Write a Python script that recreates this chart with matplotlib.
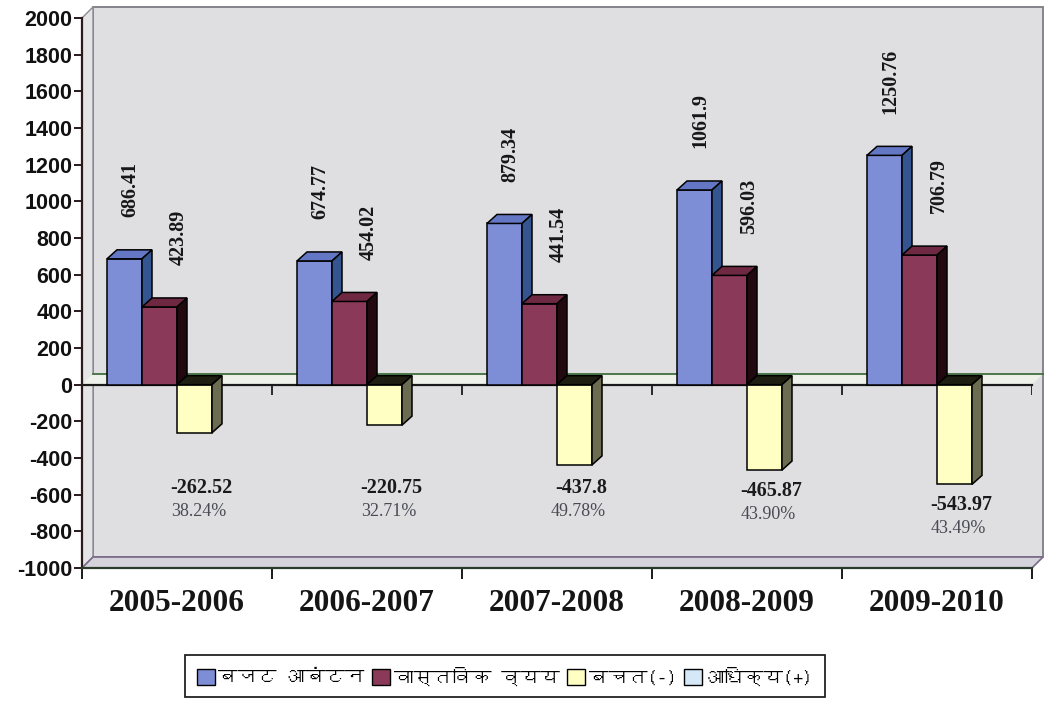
import matplotlib
matplotlib.use("Agg")
import matplotlib.pyplot as plt
from matplotlib.patches import Polygon, Patch
from matplotlib import font_manager
from matplotlib.ft2font import FT2Font

# ---------------- data ----------------
years = ["2005-2006", "2006-2007", "2007-2008", "2008-2009", "2009-2010"]
budget = [686.41, 674.77, 879.34, 1061.9, 1250.76]        # बजट आबंटन
actual = [423.89, 454.02, 441.54, 596.03, 706.79]         # वास्तविक व्यय
savings = [-262.52, -220.75, -437.8, -465.87, -543.97]    # बचत(-)
excess = [0, 0, 0, 0, 0]                                  # आधिक्य(+)
percent_labels = ["38.24%", "32.71%", "49.78%", "43.90%", "43.49%"]
series_names = ["बजट आबंटन", "वास्तविक व्यय", "बचत(-)", "आधिक्य(+)"]
yticks = [-1000, -800, -600, -400, -200, 0, 200, 400, 600, 800, 1000,
          1200, 1400, 1600, 1800, 2000]

# ---------------- fonts ----------------
deva_family = None
for fe in font_manager.fontManager.ttflist:
    try:
        cm = FT2Font(fe.fname).get_charmap()
        if 0x092C in cm and 0x091C in cm and 0x094D in cm:
            deva_family = fe.name
            break
    except Exception:
        pass
legend_family = [deva_family, "DejaVu Sans"] if deva_family else ["DejaVu Sans"]

# ---------------- style ----------------
front_cols = ["#7d8dd6", "#8a3a58", "#ffffc4", "#d4e8f8"]
top_cols = ["#6477c4", "#6e2842", "#1e1e12", "#b8d0e8"]
side_cols = ["#34558f", "#22080f", "#6c6c52", "#8aa4bc"]

W, H = 1045, 704
fig = plt.figure(figsize=(W / 100, H / 100), dpi=100)
fig.patch.set_facecolor("white")
ax = fig.add_axes([82 / W, 136 / H, 950 / W, 550 / H])
ax.set_xlim(0, 5)
ax.set_ylim(-1000, 2000)
ax.patch.set_visible(False)

px_x = 950 / 5.0      # pixels per category unit
px_y = 550 / 3000.0   # pixels per value unit

# wall depth / bar depth (in data units)
wdx, wdy = 11 / px_x, 11 / px_y
bdx, bdy = 10 / px_x, 9 / px_y

ymin, ymax = -1000, 2000
# back wall
ax.add_patch(Polygon([(wdx, ymin + wdy), (5 + wdx, ymin + wdy), (5 + wdx, ymax + wdy),
                      (wdx, ymax + wdy)], closed=True, facecolor="#dfdfe1",
                     edgecolor="#7c7c84", lw=1.3, clip_on=False, zorder=0.5))
# left side wall
ax.add_patch(Polygon([(0, ymin), (0, ymax), (wdx, ymax + wdy), (wdx, ymin + wdy)],
                     closed=True, facecolor="#e4e4e6", edgecolor="#8c8c94", lw=1.0,
                     clip_on=False, zorder=0.6))
# floor
ax.add_patch(Polygon([(0, ymin), (5, ymin), (5 + wdx, ymin + wdy), (wdx, ymin + wdy)],
                     closed=True, facecolor="#d4d2da", edgecolor="#7a6a8a", lw=1.2,
                     clip_on=False, zorder=0.6))
# zero plane
ax.add_patch(Polygon([(0, 0), (5, 0), (5 + wdx, wdy), (wdx, wdy)], closed=True,
                     facecolor="#eef0ea", edgecolor="none", clip_on=False, zorder=0.7))
ax.plot([wdx, 5 + wdx], [wdy, wdy], color="#3f6f3f", lw=1.3, clip_on=False, zorder=0.8)
ax.plot([0, 5], [0, 0], color="#1a1a1a", lw=1.6, clip_on=False, zorder=0.8)
ax.vlines(range(1, 6), 0, -10 / px_y, color="#1a1a1a", lw=1.3, zorder=0.8)

# ---------------- bars ----------------
w = 35 / px_x
all_series = [budget, actual, savings, excess]
for i in range(len(years)):
    c = i + 0.5
    for j, vals in enumerate(all_series):
        v = vals[i]
        if v == 0:
            continue
        x0 = c - 2 * w + j * w
        x1 = x0 + w
        z = 2 + i * 0.1 + j * 0.01
        ax.bar(x0, v, width=w, align="edge", color=front_cols[j],
               edgecolor="black", lw=1.1, zorder=z)
        top = max(v, 0)
        ax.add_patch(Polygon([(x0, top), (x1, top), (x1 + bdx, top + bdy), (x0 + bdx, top + bdy)],
                             closed=True, facecolor=top_cols[j], edgecolor="black",
                             lw=1.1, zorder=z))
        ax.add_patch(Polygon([(x1, 0), (x1, v), (x1 + bdx, v + bdy), (x1 + bdx, bdy)],
                             closed=True, facecolor=side_cols[j], edgecolor="black",
                             lw=1.1, zorder=z))

# value labels on positive bars
label_dx = [4, 14]
for j, vals in enumerate([budget, actual]):
    for i, v in enumerate(vals):
        xc = i + 0.5 - 2 * w + j * w + w / 2
        ax.annotate(f"{v:g}", xy=(xc, v), xytext=(label_dx[j], 30),
                    textcoords="offset points", rotation=90, ha="center", va="bottom",
                    fontsize=14.5, fontweight="bold", family="Liberation Serif",
                    color="#161616", zorder=5)

# labels for savings
for i, v in enumerate(savings):
    xc = i + 0.5 + w / 2
    anchor = min(v, -450)
    ax.annotate(f"{v:g}", xy=(xc, anchor), xytext=(5, -15),
                textcoords="offset points", ha="center", va="center",
                fontsize=14.5, fontweight="bold", family="Liberation Serif",
                color="#1a1a1a", zorder=5)
    ax.annotate(percent_labels[i], xy=(xc, anchor), xytext=(3, -32),
                textcoords="offset points", ha="center", va="center",
                fontsize=13, family="Liberation Serif", color="#4a4a55", zorder=5)

# ---------------- axes ----------------
for s in ["top", "right"]:
    ax.spines[s].set_visible(False)
ax.spines["left"].set_color("#2a1a1a")
ax.spines["left"].set_linewidth(1.6)
ax.spines["bottom"].set_color("#2a3a2a")
ax.spines["bottom"].set_linewidth(1.6)
ax.spines["left"].set_zorder(3)
ax.spines["bottom"].set_zorder(3)

ax.set_yticks(yticks)
ax.set_yticklabels([str(t) for t in yticks], fontsize=15.5, fontweight="bold",
                   family="Liberation Sans", color="#111111")
ax.tick_params(axis="y", direction="out", length=6, width=1.4, pad=1, colors="#2a1a1a",
               labelcolor="#111111")

ax.set_xticks(range(0, 6))
ax.set_xticklabels([""] * 6)
ax.tick_params(axis="x", which="major", direction="out", length=8, width=1.4,
               colors="#1a1a1a")
ax.set_xticks([i + 0.5 for i in range(len(years))], minor=True)
ax.set_xticklabels(years, minor=True, fontsize=22.5, fontweight="bold",
                   family="Liberation Serif", color="#151515")
ax.tick_params(axis="x", which="minor", length=0, pad=15)

# ---------------- legend ----------------
handles = [Patch(facecolor=front_cols[k], edgecolor="black", lw=1.0) for k in range(4)]
leg = fig.legend(handles, series_names, loc="center", bbox_to_anchor=(505 / W, 1 - 676 / H),
                 bbox_transform=fig.transFigure, ncol=4, frameon=True, fancybox=False,
                 edgecolor="#222222", framealpha=1, handlelength=0.9, handleheight=0.9,
                 handletextpad=0.2, columnspacing=0.4, borderpad=0.6,
                 prop={"family": legend_family, "size": 14})
leg.get_frame().set_linewidth(1.3)

fig.savefig("out.png", dpi=100)
